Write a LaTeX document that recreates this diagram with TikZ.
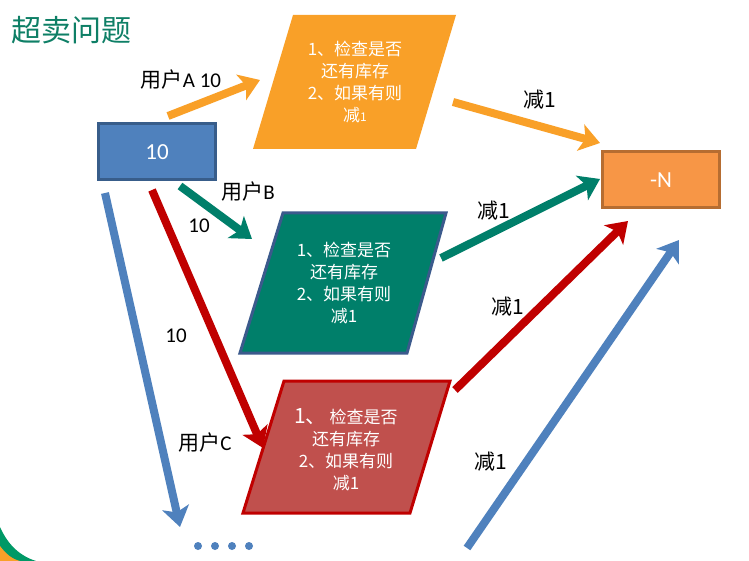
\documentclass[tikz,border=0pt]{standalone}
\usepackage{fontspec}
\setmainfont{Carlito}
\newfontfamily\cjk{Noto Sans CJK SC}
\usetikzlibrary{arrows.meta}
\definecolor{titleteal}{HTML}{0E7F66}
\definecolor{bluefill}{HTML}{4F81BD}
\definecolor{blueedge}{HTML}{385D8A}
\definecolor{orangeA}{HTML}{F9A028}
\definecolor{greenB}{HTML}{007F6A}
\definecolor{greenedge}{HTML}{3B5A8C}
\definecolor{redfill}{HTML}{C0504D}
\definecolor{rededge}{HTML}{C00000}
\definecolor{nfill}{HTML}{F79646}
\definecolor{nedge}{HTML}{B66D31}
\begin{document}
\begin{tikzpicture}[x=1pt,y=-1pt,
  arr/.style={line width=8pt,-{Stealth[length=20pt,width=27pt,inset=5pt]}},
  boxtext/.style={text=white,align=center,font=\fontsize{17}{22}\selectfont},
  lbl/.style={text=black,font=\fontsize{21}{22}\selectfont,inner sep=0pt},
  rectbox/.style={line width=3pt,minimum width=117pt,minimum height=56pt,inner sep=0pt,text=white,font=\fontsize{23}{24}\selectfont}]
\useasboundingbox (0,0) rectangle (749,561);
\fill[white] (0,0) rectangle (749,561);
% corner decoration
\fill[teal!80!green] (0,527) .. controls (8,545) and (20,556) .. (36,561) -- (0,561) -- cycle;
\fill[orangeA] (0,546) .. controls (6,554) and (12,559) .. (20,561) -- (0,561) -- cycle;
% title
\node[anchor=west,inner sep=0pt,text=titleteal,font=\cjk\fontsize{30}{30}\selectfont] (title) at (11,30) {超卖问题};
% rectangles
\node[rectbox,draw=blueedge,fill=bluefill] (stock) at (157,152) {10};
\node[rectbox,draw=nedge,fill=nfill] (minusN) at (661,180) {-N};
% parallelograms
\fill[orangeA] (293,15) -- (456,15) -- (416,149) -- (253,149) -- cycle;
\node[boxtext] (pa) at (355,82) {\cjk 1、检查是否\\\cjk 还有库存\\\cjk 2、如果有则\\\cjk 减{\fontsize{12}{12}\selectfont 1}};
\filldraw[fill=greenB,draw=greenedge,line width=3pt] (283,213) -- (446,213) -- (407,353) -- (240,353) -- cycle;
\node[boxtext] (pb) at (344,283) {\cjk 1、检查是否\\\cjk 还有库存\\\cjk 2、如果有则\\\cjk 减1};
\filldraw[fill=redfill,draw=rededge,line width=3pt] (284,381) -- (450,381) -- (410,513) -- (243,513) -- cycle;
\node[boxtext] (pc) at (346,450) {\cjk{\fontsize{21}{22}\selectfont 1、}\,检查是否\\\cjk 还有库存\\\cjk 2、如果有则\\\cjk 减1};
% arrow coordinates
\coordinate (a1s) at (168,116); \coordinate (a1e) at (260,80);
\coordinate (a2s) at (453,102); \coordinate (a2e) at (600,143);
\coordinate (b1s) at (180,186); \coordinate (b1e) at (252,239);
\coordinate (b2s) at (441,258); \coordinate (b2e) at (600,179);
\coordinate (c1s) at (152,190); \coordinate (c1e) at (263,448);
\coordinate (c2s) at (455,390); \coordinate (c2e) at (628,221);
\coordinate (d1s) at (105,193); \coordinate (d1e) at (180,527);
\coordinate (d2s) at (467,548); \coordinate (d2e) at (679,240);
% arrows
\draw[arr,orangeA] (a1s) -- (a1e);
\draw[arr,orangeA] (a2s) -- (a2e);
\draw[arr,greenB] (b1s) -- (b1e);
\draw[arr,greenB] (b2s) -- (b2e);
\draw[arr,rededge] (c1s) -- (c1e);
\draw[arr,rededge] (c2s) -- (c2e);
\draw[arr,bluefill] (d1s) -- (d1e);
\draw[arr,bluefill] (d2s) -- (d2e);
% labels
\node[lbl] (la1) at (181,80) {{\cjk 用户}A 10};
\node[lbl] (la2) at (540,100) {\cjk 减1};
\node[lbl] (lb1) at (248,192) {{\cjk 用户}B};
\node[lbl] (lb1n) at (199,226) {10};
\node[lbl] (lb2) at (494,211) {\cjk 减1};
\node[lbl] (lc1n) at (176,336) {10};
\node[lbl] (lc1) at (205,443) {{\cjk 用户}C};
\node[lbl] (lc2) at (508,307) {\cjk 减1};
\node[lbl] (ld2) at (491,462) {\cjk 减1};
% dots
\foreach \i/\x in {1/198,2/215,3/232,4/249}
  \fill[bluefill] (\x,546) circle (4pt) coordinate (dot\i);
\end{tikzpicture}
\end{document}
